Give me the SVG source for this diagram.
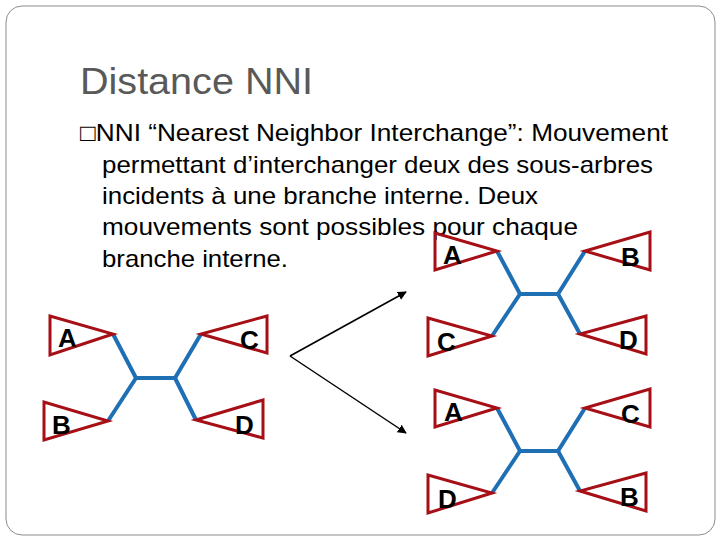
<svg xmlns="http://www.w3.org/2000/svg" width="720" height="540" viewBox="0 0 720 540">
<defs>
<style>
.t{font-family:"Liberation Sans",Arial,sans-serif;font-size:24px;fill:#000}
.lb{font-family:"Liberation Sans",Arial,sans-serif;font-size:26px;font-weight:bold;fill:#000}
.tri{fill:none;stroke:#a50f15;stroke-width:3}
.br{fill:none;stroke:#1f6fb5;stroke-width:4;stroke-linejoin:miter}
.ar{stroke:#000;stroke-width:1.5;fill:none;marker-end:url(#ah)}
</style>
<marker id="ah" viewBox="0 0 10 10" refX="9" refY="5" markerWidth="6" markerHeight="6" orient="auto"><path d="M0,0L10,5L0,10z" fill="#000"/></marker>
</defs>
<rect x="0" y="0" width="720" height="540" fill="#fff"/>
<rect x="6" y="6" width="709" height="529" rx="16" fill="none" stroke="#8c8c8c" stroke-width="1"/>
<text x="80" y="94" textLength="233" lengthAdjust="spacingAndGlyphs" style="font-family:'Liberation Sans',Arial,sans-serif;font-size:37px;fill:#595959">Distance NNI</text>
<g id="body" class="t">
<text x="80" y="141" textLength="588" lengthAdjust="spacingAndGlyphs">□NNI “Nearest Neighbor Interchange”: Mouvement</text>
<text x="102" y="173" textLength="551" lengthAdjust="spacingAndGlyphs">permettant d’interchanger deux des sous-arbres</text>
<text x="102" y="204" textLength="436" lengthAdjust="spacingAndGlyphs">incidents à une branche interne. Deux</text>
<text x="102" y="235" textLength="476" lengthAdjust="spacingAndGlyphs">mouvements sont possibles pour  chaque</text>
<text x="102" y="267" textLength="186" lengthAdjust="spacingAndGlyphs">branche interne.</text>
</g>
<g id="tree-left">
<polyline class="br" points="113,334 136,378 175,378 201,334"/>
<polyline class="br" points="108,421 136,378"/>
<polyline class="br" points="175,378 196,420"/>
<polygon class="tri" points="50,316 50,355 113,334"/><text class="lb" x="58" y="347">A</text>
<polygon class="tri" points="44,402 44,440 108,421"/><text class="lb" x="52" y="434">B</text>
<polygon class="tri" points="267,316 267,353 201,334"/><text class="lb" x="240" y="349">C</text>
<polygon class="tri" points="263,400 263,438 196,420"/><text class="lb" x="235" y="434">D</text>
</g>
<g id="tree-top">
<polyline class="br" points="497,251 520,294 558,294 585,251"/>
<polyline class="br" points="492,336 520,294"/>
<polyline class="br" points="558,294 580,334"/>
<polygon class="tri" points="435,233 435,270 497,251"/><text class="lb" x="443" y="264">A</text>
<polygon class="tri" points="650,232 650,270 585,251"/><text class="lb" x="621" y="266">B</text>
<polygon class="tri" points="428,318 428,356 492,336"/><text class="lb" x="437" y="351">C</text>
<polygon class="tri" points="646,316 646,354 580,334"/><text class="lb" x="619" y="349">D</text>
</g>
<g id="tree-bottom">
<polyline class="br" points="497,408 520,451 558,451 585,408"/>
<polyline class="br" points="492,493 520,451"/>
<polyline class="br" points="558,451 580,491"/>
<polygon class="tri" points="435,390 435,427 497,408"/><text class="lb" x="444" y="421">A</text>
<polygon class="tri" points="650,389 650,427 585,408"/><text class="lb" x="621" y="423">C</text>
<polygon class="tri" points="428,475 428,513 492,493"/><text class="lb" x="438" y="508">D</text>
<polygon class="tri" points="646,473 646,511 580,491"/><text class="lb" x="620" y="506">B</text>
</g>
<g id="connectors">
<line class="ar" x1="290" y1="356" x2="406" y2="292"/>
<line class="ar" x1="290" y1="356" x2="406" y2="433"/>
</g>
</svg>
